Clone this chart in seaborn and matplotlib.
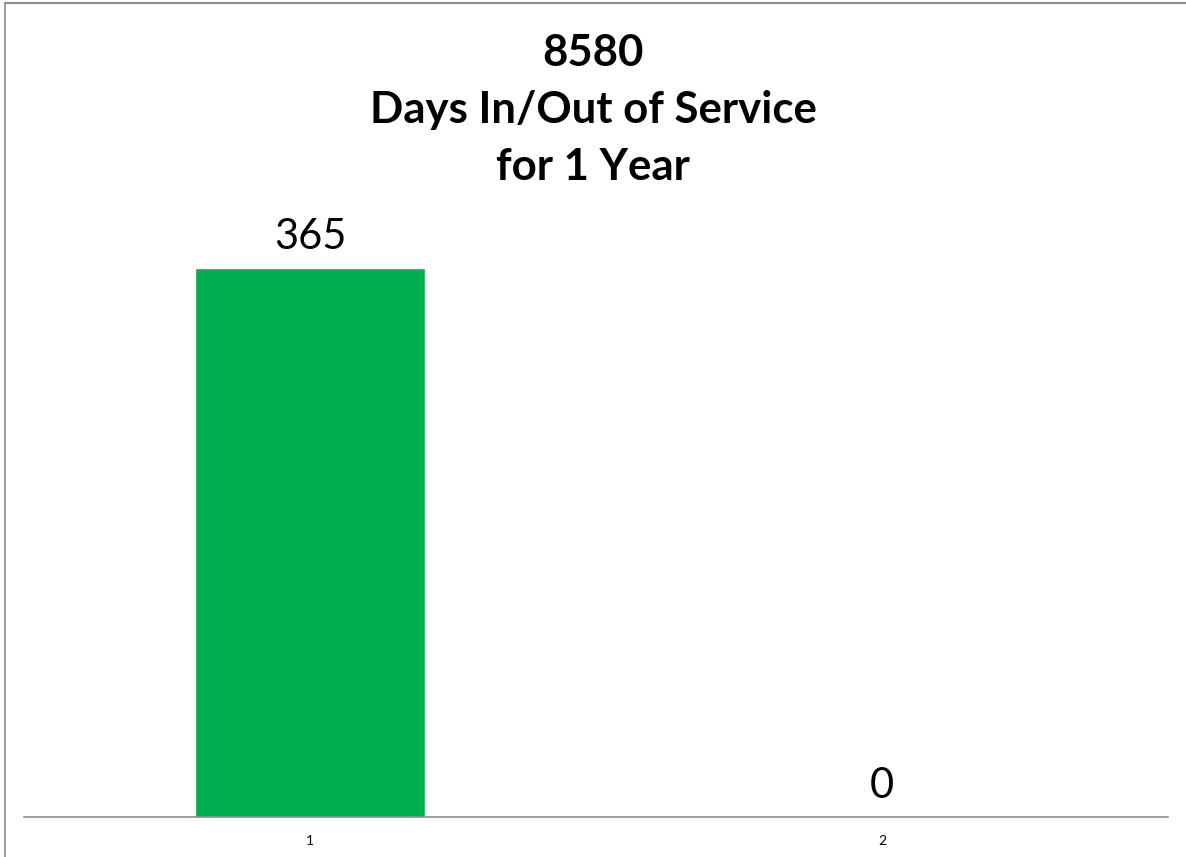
import matplotlib
matplotlib.use("Agg")
import matplotlib.pyplot as plt
from matplotlib.lines import Line2D
import seaborn as sns
import pandas as pd

categories = ["1", "2"]
days = [365, 0]
title_lines = ["8580", "Days In/Out of Service", "for 1 Year"]

sns.set_theme(style="white")
plt.rcParams["font.family"] = ["Lato", "DejaVu Sans"]

W, H = 1186, 857
fig = plt.figure(figsize=(W / 100, H / 100), dpi=100)
ax = fig.add_axes([24 / W, 1 - 817 / H, (1168 - 24) / W, (817 - 215.4) / H])

df = pd.DataFrame({"cat": categories, "days": days})
sns.barplot(data=df, x="cat", y="days", color="#00B050", saturation=1,
            width=0.402, ax=ax)

ax.set_ylim(0, 400)
ax.set_xlim(-0.5, 1.5)
for s in ["top", "right", "left"]:
    ax.spines[s].set_visible(False)
ax.spines["bottom"].set_color("#8c8c8c")
ax.spines["bottom"].set_linewidth(1.2)
ax.set_yticks([])
ax.set_xlabel("")
ax.set_ylabel("")
ax.tick_params(axis="x", length=0, labelsize=10, pad=13, colors="black")

for i, v in enumerate(days):
    ax.annotate(f"{v}", (i, v), xytext=(0, 9), textcoords="offset points",
                ha="center", va="bottom", fontsize=30, color="black")

fig.text(0.5, 1 - 110 / H, "\n".join(title_lines), ha="center", va="center",
         fontsize=31.5, fontweight="bold", linespacing=1.5, color="black")

# outer frame lines
fig.add_artist(Line2D([4.5 / W, 4.5 / W], [0, 1 - 2.5 / H], transform=fig.transFigure,
                      color="#8c8c8c", lw=1.2))
fig.add_artist(Line2D([4.5 / W, 1], [1 - 2.5 / H, 1 - 2.5 / H], transform=fig.transFigure,
                      color="#8c8c8c", lw=1.5))

fig.savefig("out.png", dpi=100, facecolor="white")
